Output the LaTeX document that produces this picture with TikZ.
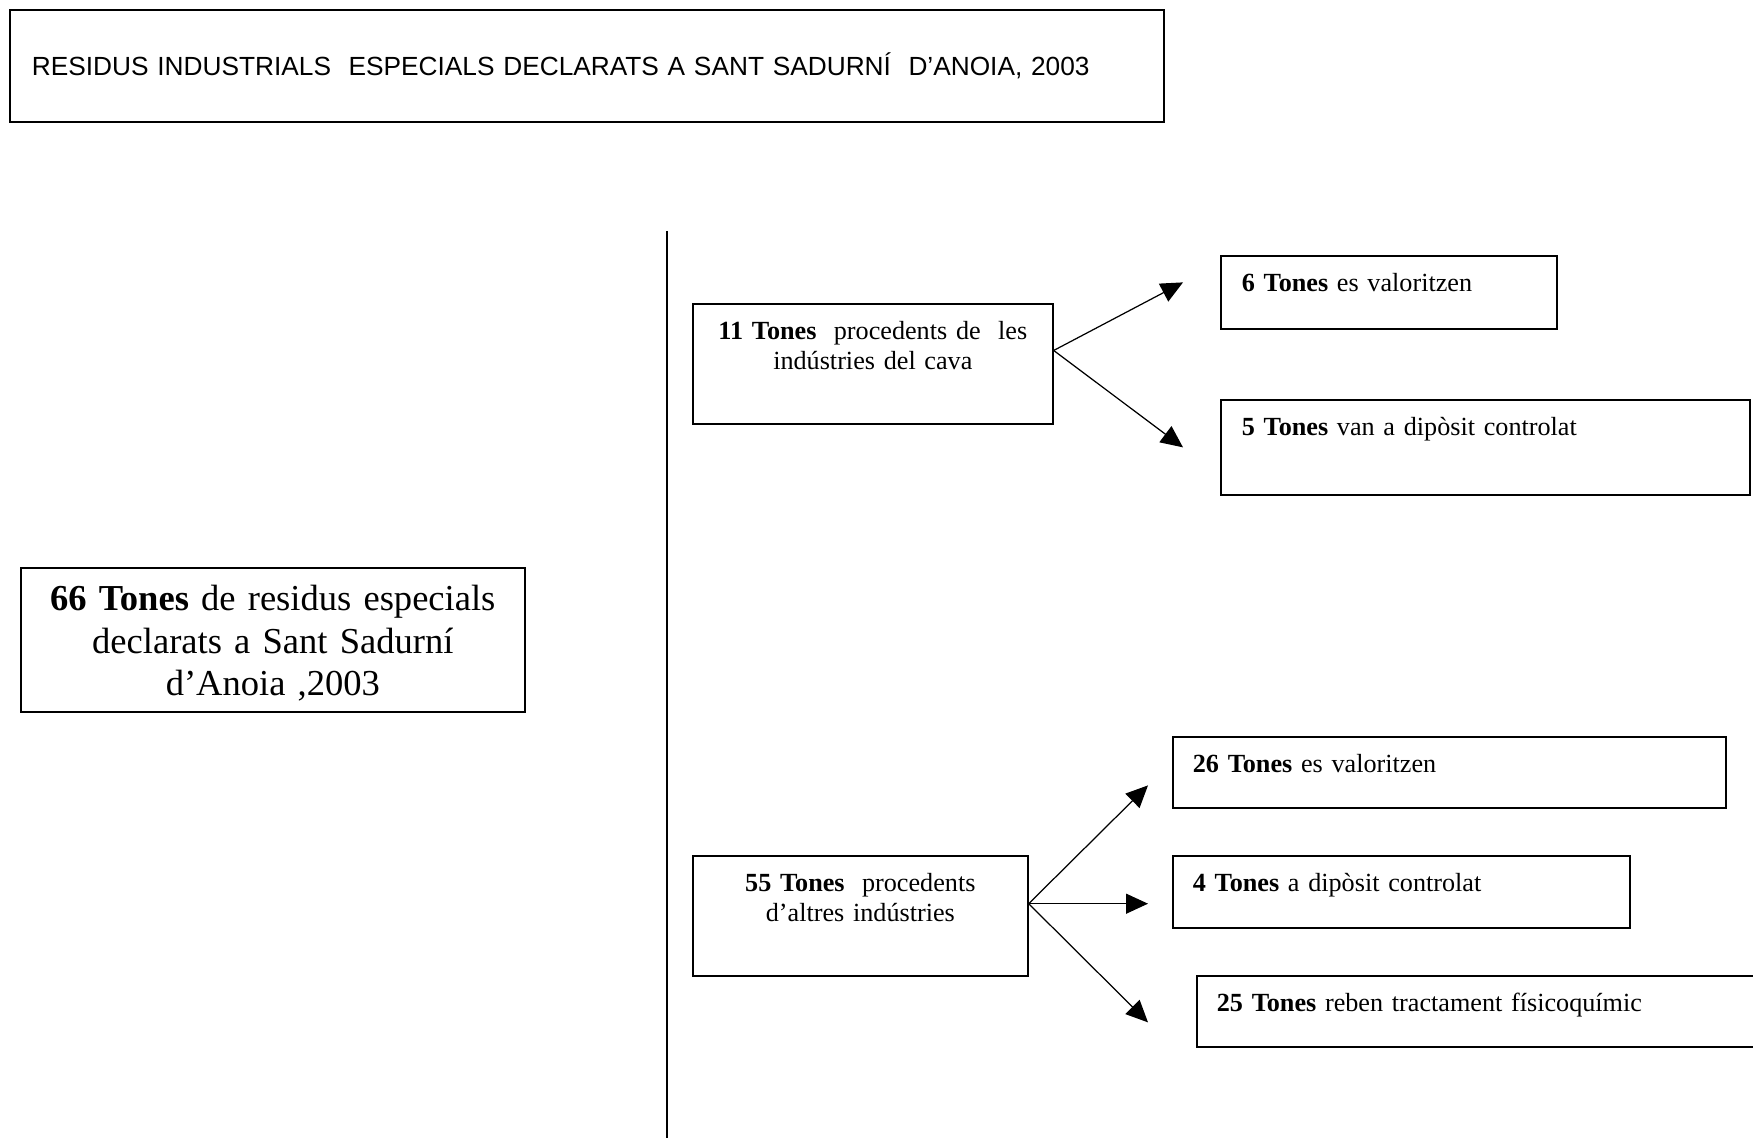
\documentclass[tikz,border=0pt]{standalone}
\usepackage{fontspec}
\setmainfont{Liberation Serif}
\newfontfamily\titlefont{Liberation Sans}
\usetikzlibrary{arrows.meta,calc}

\begin{document}
\begin{tikzpicture}[x=0.02cm, y=-0.02cm, line width=1pt,
  topbox/.style={draw, anchor=north west, inner xsep=0.4cm, inner ysep=0.32cm,
    text height=0.4cm, align=left, font=\fontsize{14.9}{17}\selectfont},
  midbox/.style={topbox, align=center},
  flow/.style={-{Triangle[length=0.44cm,width=0.4cm]}, line width=0.7pt}]
  \useasboundingbox (0,0) rectangle (1753,1138);
  % title bar
  \node[draw, anchor=north west, minimum width=23.08cm, minimum height=2.24cm,
        text width=22.2cm, inner xsep=0.44cm, align=left,
        font=\titlefont\fontsize{14.95}{18}\selectfont] (title) at (9,9)
        {RESIDUS INDUSTRIALS\ \ ESPECIALS DECLARATS A SANT SADURNÍ\ \ D’ANOIA, 2003};
  % total on the left, divider
  \node[draw, anchor=north west, inner xsep=0.34cm, inner ysep=0.3cm,
        text width=9.4cm, text height=0.56cm, text depth=1.72cm,
        align=center, font=\fontsize{20.8}{24.2}\selectfont] (total) at (20,567)
        {{\bfseries 66 Tones} de residus especials\\declarats a Sant Sadurní\\d’Anoia ,2003};
  \draw (667,231) -- (667,1140);
  % upper branch: cava
  \node[midbox, text width=6.4cm, text depth=1.36cm] (cava) at (692,303)
        {{\bfseries 11 Tones}\ \ procedents de\ \ les\\indústries del cava};
  \node[topbox, inner xsep=0.42cm, text width=5.88cm, text depth=0.42cm] (cval) at (1220,255)
        {{\bfseries 6 Tones} es valoritzen};
  \node[topbox, inner xsep=0.42cm, text width=9.74cm, text depth=0.86cm] (cdip) at (1220,399)
        {{\bfseries 5 Tones} van a dipòsit controlat};
  \coordinate (cavaout) at ($(cava.north east)!0.39!(cava.south east)$);
  \draw[flow] (cavaout) -- ($(cval.west)+(-37,-10)$);
  \draw[flow] (cavaout) -- ($(cdip.west)+(-37,0)$);
  % lower branch: other industries
  \node[midbox, text width=5.9cm, text depth=1.36cm] (altres) at (692,855)
        {{\bfseries 55 Tones}\ \ procedents\\d’altres indústries};
  \node[topbox, text width=10.26cm, text depth=0.38cm] (aval) at (1172,736)
        {{\bfseries 26 Tones} es valoritzen};
  \node[topbox, text width=8.34cm, text depth=0.4cm] (adip) at (1172,855)
        {{\bfseries 4 Tones} a dipòsit controlat};
  \node[topbox, text width=10.48cm, text depth=0.38cm] (afis) at (1196,975)
        {{\bfseries 25 Tones} reben tractament físicoquímic};
  \coordinate (altout) at ($(altres.north east)!0.4!(altres.south east)$);
  \draw[flow] (altout) -- ($(aval.west)+(-24,13)$);
  \draw[flow] (altout) -- ($(altout -| adip.west)+(-24,0)$);
  \draw[flow] (altout) -- ($(afis.west)+(-48,11)$);
\end{tikzpicture}
\end{document}
